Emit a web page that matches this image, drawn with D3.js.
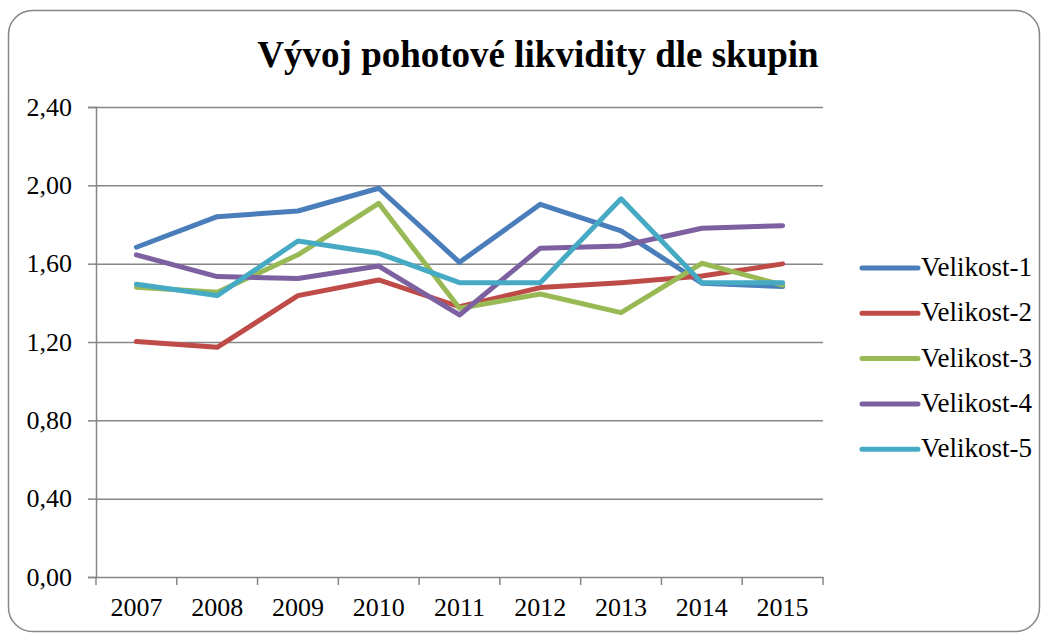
<!DOCTYPE html>
<html><head><meta charset="utf-8">
<script src="https://cdn.jsdelivr.net/npm/d3@7"></script>
<style>html,body{margin:0;padding:0;background:#fff;}svg{display:block;}
svg text{font-family:"Liberation Serif","Times New Roman",serif !important;fill:#000;}</style>
</head><body>
<svg id="chart" width="1047" height="637"></svg>
<script>
const years = ["2007","2008","2009","2010","2011","2012","2013","2014","2015"];
const seriesNames = ["Velikost-1","Velikost-2","Velikost-3","Velikost-4","Velikost-5"];
const velikost1 = [1.684,1.840,1.869,1.985,1.607,1.903,1.767,1.500,1.483];
const velikost2 = [1.202,1.173,1.437,1.517,1.380,1.478,1.503,1.537,1.599];
const velikost3 = [1.480,1.454,1.645,1.908,1.372,1.445,1.350,1.602,1.491];
const velikost4 = [1.645,1.534,1.524,1.588,1.338,1.679,1.690,1.781,1.794];
const velikost5 = [1.495,1.437,1.716,1.653,1.503,1.503,1.931,1.503,1.503];
const yTicks = [0,0.4,0.8,1.2,1.6,2.0,2.4];
const colors = ["#4A7EBB","#BE4B48","#98B954","#7D60A0","#46AAC5"];
const title = "Vývoj pohotové likvidity dle skupin";

(function(){
const data = [velikost1,velikost2,velikost3,velikost4,velikost5];
const svg = d3.select("#chart");

svg.append("rect").attr("x",8.5).attr("y",10.5).attr("width",1031).attr("height",621)
  .attr("rx",24).attr("ry",24).attr("fill","#fff").attr("stroke","#868686").attr("stroke-width",1.5);

svg.append("text").attr("x",538).attr("y",67).attr("text-anchor","middle")
  .attr("font-weight","bold").attr("font-size",37).text(title);

const pL=96, pR=823, pT=107, pB=577;
const x = d3.scaleBand().domain(years).range([pL,pR]).padding(0);
const y = d3.scaleLinear().domain([0,2.4]).range([pB,pT]);

svg.append("g").selectAll("line").data(yTicks.filter(t=>t>0)).join("line")
  .attr("x1",pL).attr("x2",pR).attr("y1",d=>y(d)+0.5).attr("y2",d=>y(d)+0.5)
  .attr("stroke","#868686").attr("stroke-width",1.5);

const fmt = d => d.toFixed(2).replace(".",",");
const yAxis = svg.append("g").attr("transform",`translate(${pL},0)`)
  .call(d3.axisLeft(y).tickValues(yTicks).tickFormat(fmt).tickSize(8).tickPadding(16));
yAxis.select(".domain").attr("stroke","#868686").attr("stroke-width",1.5);
yAxis.selectAll(".tick line").attr("stroke","#868686").attr("stroke-width",1.5);
yAxis.selectAll("text").attr("font-size",26);

const xAxis = svg.append("g").attr("transform",`translate(0,${pB})`)
  .call(d3.axisBottom(x).tickSize(0).tickPadding(21));
xAxis.select(".domain").attr("stroke","#868686").attr("stroke-width",1.5);
xAxis.selectAll("text").attr("font-size",26);
const bounds = years.map(d=>x(d)).concat([pR]);
xAxis.append("g").selectAll("line").data(bounds).join("line")
  .attr("x1",d=>d).attr("x2",d=>d).attr("y1",0).attr("y2",8)
  .attr("stroke","#868686").attr("stroke-width",1.5);

const line = d3.line().x((d,i)=>x(years[i])+x.bandwidth()/2).y(d=>y(d));
data.forEach((s,k)=>{
  svg.append("path").datum(s).attr("d",line).attr("fill","none")
    .attr("stroke",colors[k]).attr("stroke-width",5).attr("stroke-linejoin","round").attr("stroke-linecap","round");
});

const lg = svg.append("g");
seriesNames.forEach((n,k)=>{
  const yy = 268 + k*45.3;
  lg.append("line").attr("x1",862).attr("x2",918).attr("y1",yy).attr("y2",yy)
    .attr("stroke",colors[k]).attr("stroke-width",5).attr("stroke-linecap","round");
  lg.append("text").attr("x",921).attr("y",yy+8).attr("font-size",27).text(n);
});
})();
</script>
</body></html>
